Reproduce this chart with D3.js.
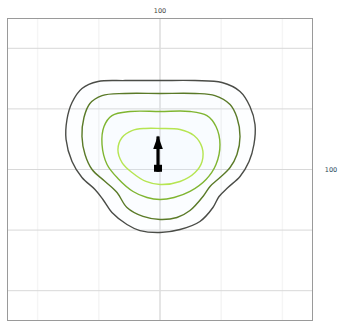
<!DOCTYPE html>
<html>
<head>
<meta charset="utf-8">
<script src="https://cdn.jsdelivr.net/npm/d3@7"></script>
<style>
  html, body { margin: 0; padding: 0; background: #fff; }
  svg { display: block; }
</style>
</head>
<body>
<svg id="chart" width="339" height="324"></svg>
<script>
// Density contour levels, outermost first, as [x, y] rings in plot units
const contourOuter = [[0,58.7],[22.9,58.7],[40.5,57.4],[52.3,51.5],[58.8,41.6],[62.1,29.7],[61.4,16.5],[58.2,5.3],[52.3,-4.6],[44.4,-11.9],[38.6,-17.8],[34.6,-25.1],[26.1,-34.3],[13.1,-39.6],[0,-41.6],[-13.1,-40.3],[-21.6,-36.3],[-31.4,-28.4],[-37.3,-19.8],[-42.5,-13.2],[-51.0,-5.3],[-57.5,5.3],[-61.4,19.8],[-60.8,33.0],[-57.5,44.2],[-51.0,53.5],[-40.5,58.1],[-22.9,58.7]];
const contourSecond = [[0,50.2],[22.9,50.2],[35.9,48.8],[45.8,42.9],[50.3,34.3],[52.3,21.8],[50.3,9.9],[45.8,1.3],[39.2,-5.3],[32.7,-11.2],[28.1,-17.8],[19.6,-27.1],[11.1,-31.7],[0,-33.0],[-11.1,-31.0],[-21.6,-25.1],[-28.1,-15.2],[-35.9,-7.9],[-44.4,0],[-49.0,9.9],[-51.0,21.8],[-49.7,34.3],[-45.8,43.6],[-37.9,48.8],[-22.9,50.2]];
const contourThird = [[0,38.3],[19.6,38.3],[30.7,35.6],[36.6,28.4],[39.2,16.5],[36.6,3.3],[30.1,-6.6],[19.6,-14.5],[9.2,-18.5],[0,-19.8],[-8.5,-18.5],[-17.6,-14.5],[-27.5,-5.9],[-34.6,3.3],[-37.9,16.5],[-36.6,28.4],[-31.4,35.6],[-19.6,38.3]];
const contourInner = [[0,27.1],[13.1,26.4],[22.2,22.4],[27.5,14.5],[27.5,5.3],[22.9,-2.0],[13.1,-7.9],[0,-9.9],[-9.2,-7.9],[-18.3,-2.0],[-24.8,4.6],[-27.5,13.2],[-24.8,21.1],[-18.3,25.7],[-9.8,27.1]];
const contourColors = ["#4a4c47", "#5a7a28", "#7fb530", "#b6e552"];

// Mean vector: start point and end point
const vectorStart = [-1.3, -1.5];
const vectorEnd = [-1.3, 21.8];

// Grid and axis labels
const gridY = [-80, -40, 0, 40, 80];
const gridXFaint = [-80, -40, 40, 80];
const topLabel = "100";
const sideLabel = "100";

const svg = d3.select("#chart");
const box = { left: 7, right: 313, top: 18, bottom: 321 };

const x = d3.scaleLinear().domain([-100, 100]).range([box.left, box.right]);
const y = d3.scaleLinear().domain([-100, 100]).range([box.bottom, box.top]);

// faint vertical guides
svg.append("g").selectAll("line").data(gridXFaint).join("line")
  .attr("x1", d => x(d)).attr("x2", d => x(d))
  .attr("y1", box.top).attr("y2", box.bottom)
  .attr("stroke", "#f5f5f5").attr("stroke-width", 1.5);

// horizontal grid
svg.append("g").selectAll("line").data(gridY).join("line")
  .attr("x1", box.left).attr("x2", box.right)
  .attr("y1", d => y(d)).attr("y2", d => y(d))
  .attr("stroke", "#d8d8d8").attr("stroke-width", 1);

// central vertical axis
svg.append("line")
  .attr("x1", x(0)).attr("x2", x(0))
  .attr("y1", box.top).attr("y2", box.bottom)
  .attr("stroke", "#dcdcdc").attr("stroke-width", 1.5);

// frame
svg.append("rect")
  .attr("x", box.left + 0.5).attr("y", box.top + 0.5)
  .attr("width", box.right - box.left - 1).attr("height", box.bottom - box.top - 1)
  .attr("fill", "none").attr("stroke", "#9a9a9a").attr("stroke-width", 1);

// contours
const ring = d3.line().x(d => x(d[0])).y(d => y(d[1])).curve(d3.curveCatmullRomClosed.alpha(0.5));
const rings = [contourOuter, contourSecond, contourThird, contourInner];

svg.append("g").selectAll("path.fill").data(rings).join("path")
  .attr("class", "fill")
  .attr("d", ring)
  .attr("fill", "#e8f7f9").attr("fill-opacity", 0.07).attr("stroke", "none");

svg.append("g").selectAll("path.level").data(rings).join("path")
  .attr("class", "level")
  .attr("d", ring)
  .attr("fill", "none")
  .attr("stroke", (d, i) => contourColors[i])
  .attr("stroke-width", 1.4);

// mean vector arrow
const defs = svg.append("defs");
defs.append("marker")
  .attr("id", "head").attr("viewBox", "0 0 14 10")
  .attr("refX", 13).attr("refY", 5)
  .attr("markerWidth", 14).attr("markerHeight", 10)
  .attr("markerUnits", "userSpaceOnUse")
  .attr("orient", "auto")
  .append("path").attr("d", "M0,0 L14,5 L0,10 Z").attr("fill", "#000");

svg.append("line")
  .attr("x1", x(vectorStart[0])).attr("y1", y(vectorStart[1]))
  .attr("x2", x(vectorEnd[0])).attr("y2", y(vectorEnd[1]))
  .attr("stroke", "#000").attr("stroke-width", 3.2)
  .attr("marker-end", "url(#head)");

svg.append("rect")
  .attr("x", x(vectorStart[0]) - 4).attr("y", y(vectorStart[1]) - 7)
  .attr("width", 8).attr("height", 7)
  .attr("fill", "#000");

// labels
svg.append("text")
  .attr("x", x(0)).attr("y", box.top - 5)
  .attr("text-anchor", "middle")
  .attr("font-family", "DejaVu Sans, sans-serif")
  .attr("font-size", 6.5).attr("fill", "#444")
  .text(topLabel);

svg.append("text")
  .attr("x", 331).attr("y", y(0) + 2.5)
  .attr("text-anchor", "middle")
  .attr("font-family", "DejaVu Sans, sans-serif")
  .attr("font-size", 6.5).attr("fill", "#27465a")
  .text(sideLabel);
</script>
</body>
</html>
